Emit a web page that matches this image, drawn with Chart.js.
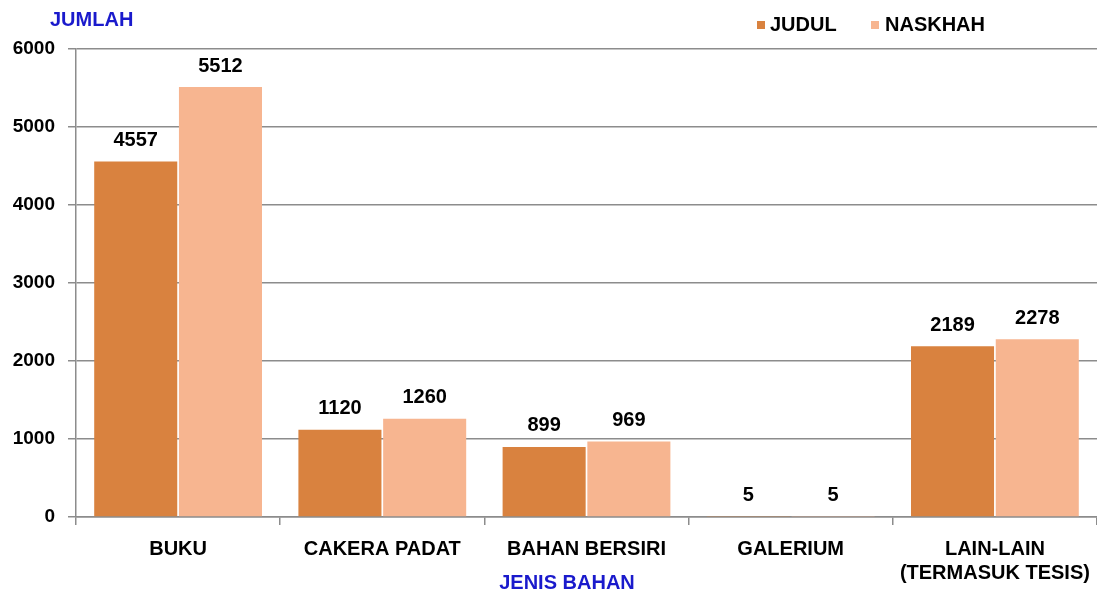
<!DOCTYPE html>
<html>
<head>
<meta charset="utf-8">
<script src="https://cdn.jsdelivr.net/npm/chart.js@4/dist/chart.umd.min.js"></script>
<style>
html,body{margin:0;padding:0;background:#fff;}
#wrap{width:1097px;height:595px;position:relative;}
</style>
</head>
<body>
<div id="wrap"><canvas id="c" width="1097" height="595"></canvas></div>
<script>
const categories = ['BUKU', 'CAKERA PADAT', 'BAHAN BERSIRI', 'GALERIUM', ['LAIN-LAIN', '(TERMASUK TESIS)']];
const judul = [4557, 1120, 899, 5, 2189];
const naskhah = [5512, 1260, 969, 5, 2278];
const seriesNames = ['JUDUL', 'NASKHAH'];
const yTicks = [0, 1000, 2000, 3000, 4000, 5000, 6000];
const yTitle = 'JUMLAH';
const xTitle = 'JENIS BAHAN';

const colJudul = '#D9823F';
const colNaskhah = '#F7B590';
const blue = '#1A1ACC';
const FONT = '"Liberation Sans", Arial, sans-serif';

const overlay = {
  id: 'overlay',
  afterDatasetsDraw(chart) {
    const ctx = chart.ctx;
    ctx.save();
    ctx.font = 'bold 20px ' + FONT;
    ctx.fillStyle = '#000';
    ctx.textAlign = 'center';
    ctx.textBaseline = 'middle';
    chart.data.datasets.forEach((ds, di) => {
      const meta = chart.getDatasetMeta(di);
      meta.data.forEach((bar, i) => {
        ctx.fillText(String(ds.data[i]), bar.x, bar.y - 21);
      });
    });
    // titles
    ctx.fillStyle = blue;
    ctx.textAlign = 'left';
    ctx.fillText(yTitle, 50, 20);
    ctx.textAlign = 'center';
    ctx.fillText(xTitle, 567, 583);
    // legend
    ctx.textAlign = 'left';
    ctx.fillStyle = colJudul;
    ctx.fillRect(757, 21, 8, 8);
    ctx.fillStyle = colNaskhah;
    ctx.fillRect(871, 21, 8, 8);
    ctx.fillStyle = '#000';
    ctx.fillText(seriesNames[0], 770, 25);
    ctx.fillText(seriesNames[1], 885, 25);
    ctx.restore();
  }
};

new Chart(document.getElementById('c'), {
  type: 'bar',
  data: {
    labels: categories,
    datasets: [
      { label: seriesNames[0], data: judul, backgroundColor: colJudul, barPercentage: 0.98, categoryPercentage: 0.83 },
      { label: seriesNames[1], data: naskhah, backgroundColor: colNaskhah, barPercentage: 0.98, categoryPercentage: 0.83 }
    ]
  },
  options: {
    responsive: false,
    animation: false,
    devicePixelRatio: 1,
    layout: { padding: { top: 49, right: -4, left: 0, bottom: 0 } },
    plugins: { legend: { display: false }, tooltip: { enabled: false } },
    scales: {
      x: {
        grid: { display: true, drawOnChartArea: false, offset: true, color: '#8c8c8c', lineWidth: 1.5, tickLength: 8 },
        border: { color: '#8c8c8c', width: 1.5 },
        ticks: { color: '#000', font: { family: FONT, size: 20, weight: 'bold', lineHeight: 1.2 }, padding: 12, maxRotation: 0, autoSkip: false },
        afterFit(s) { s.height = 78; s.paddingRight = 0; s.paddingLeft = 0; }
      },
      y: {
        min: 0, max: 6000,
        afterBuildTicks(s) { s.ticks = yTicks.map(v => ({ value: v })); },
        grid: { color: '#8c8c8c', lineWidth: 1.5, tickLength: 8 },
        border: { color: '#8c8c8c', width: 1.5 },
        ticks: { color: '#000', font: { family: FONT, size: 19, weight: 'bold' }, padding: 13, callback: (v) => String(v) },
        afterFit(s) { s.width = 76; s.paddingTop = 0; s.paddingBottom = 0; }
      }
    }
  },
  plugins: [overlay]
});
</script>
</body>
</html>
